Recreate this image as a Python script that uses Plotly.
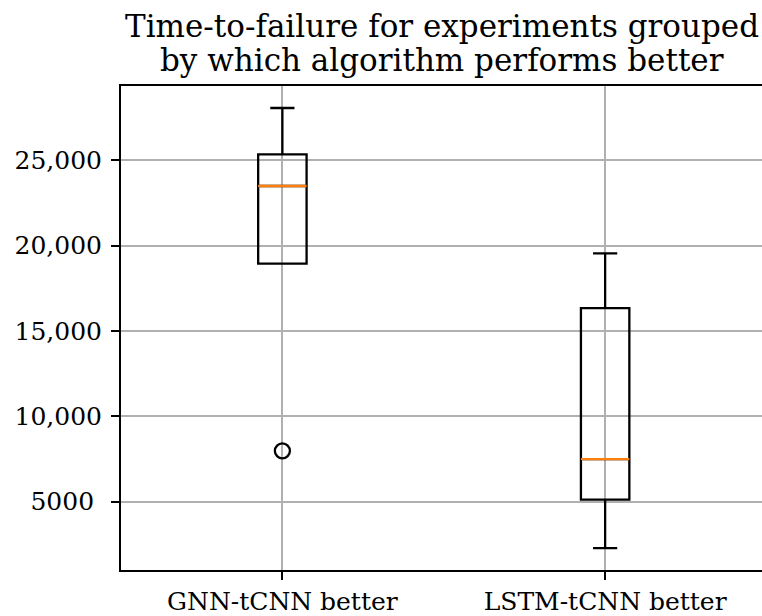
import plotly.graph_objects as go

# Box statistics for time-to-failure, grouped by which algorithm does better
groups = ["GNN-tCNN better", "LSTM-tCNN better"]
positions = [1, 2]
q1 = [18950, 5120]
median = [23500, 7500]
q3 = [25350, 16350]
lower_whisker = [18950, 2280]
upper_whisker = [28070, 19550]

# Points beyond the whiskers
outlier_pos = [1]
outlier_val = [7980]

y_ticks = [5000, 10000, 15000, 20000, 25000]
y_tick_text = ["5000\u00a0", "10,000", "15,000", "20,000", "25,000"]

title_lines = ["Time-to-failure for experiments grouped",
               "by which algorithm performs better"]

BOX_WIDTH = 0.15
FONT = "DejaVu Serif"
GRID = "#b0b0b0"
PLOT_H = 616 - 86 - 42

fig = go.Figure()

for pos, a, m, b, lo, hi in zip(positions, q1, median, q3, lower_whisker, upper_whisker):
    fig.add_trace(go.Box(
        x=[pos], q1=[a], median=[m], q3=[b],
        lowerfence=[lo], upperfence=[hi],
        width=BOX_WIDTH, whiskerwidth=0.5,
        line=dict(color="black", width=2.3),
        fillcolor="rgba(0,0,0,0)",
        boxpoints=False, showlegend=False, hoverinfo="skip",
    ))
    # median drawn in orange across the box
    fig.add_trace(go.Scatter(
        x=[pos - BOX_WIDTH / 2, pos + BOX_WIDTH / 2], y=[m, m],
        mode="lines", line=dict(color="#ff7f0e", width=2.3),
        showlegend=False, hoverinfo="skip",
    ))

fig.add_trace(go.Scatter(
    x=outlier_pos, y=outlier_val, mode="markers",
    marker=dict(symbol="circle-open", size=15, color="black",
                line=dict(color="black", width=2.3)),
    showlegend=False, hoverinfo="skip",
))

# two-line title, centred over the plotting area
for i, line in enumerate(title_lines):
    fig.add_annotation(
        text=line, xref="paper", yref="paper", x=0.5,
        y=1 + (61 - 35 * i) / PLOT_H, yanchor="middle", xanchor="center",
        showarrow=False, font=dict(family=FONT, size=31, color="black"),
    )

fig.update_layout(
    width=762, height=616,
    margin=dict(l=121, r=0, t=86, b=42),
    paper_bgcolor="white", plot_bgcolor="white",
    font=dict(family=FONT, size=25, color="black"),
    showlegend=False,
)

fig.update_xaxes(
    range=[0.5, 2.486], tickvals=positions, ticktext=groups,
    showgrid=True, gridcolor=GRID, gridwidth=2,
    showline=True, linecolor="black", linewidth=2, mirror=True,
    ticks="outside", ticklen=8, tickwidth=2, tickcolor="black",
    zeroline=False, tickfont=dict(family=FONT, size=25),
)
fig.update_yaxes(
    range=[1000, 29360], tickvals=y_ticks, ticktext=y_tick_text,
    showgrid=True, gridcolor=GRID, gridwidth=2,
    showline=True, linecolor="black", linewidth=2, mirror=False,
    ticks="outside", ticklen=8, tickwidth=2, tickcolor="black",
    ticklabelstandoff=4,
    zeroline=False, tickfont=dict(family=FONT, size=25),
)

fig.write_html("out.html")
